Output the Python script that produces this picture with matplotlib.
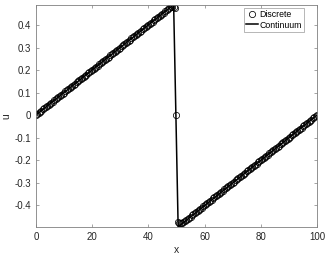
import numpy as np
import matplotlib.pyplot as plt

plt.rcParams['font.family'] = ['Liberation Sans', 'DejaVu Sans']

# discrete solution, nodes every 0.5 in x from 0 to 100
x_disc = np.arange(0, 100.5, 0.5)
u_disc = [
    0.000, 0.005, 0.010, 0.015, 0.020, 0.025, 0.030, 0.035, 0.040, 0.045,
    0.050, 0.055, 0.060, 0.065, 0.070, 0.075, 0.080, 0.085, 0.090, 0.095,
    0.100, 0.105, 0.110, 0.115, 0.120, 0.125, 0.130, 0.135, 0.140, 0.145,
    0.150, 0.155, 0.160, 0.165, 0.170, 0.175, 0.180, 0.185, 0.190, 0.195,
    0.200, 0.205, 0.210, 0.215, 0.220, 0.225, 0.230, 0.235, 0.240, 0.245,
    0.250, 0.255, 0.260, 0.265, 0.270, 0.275, 0.280, 0.285, 0.290, 0.295,
    0.300, 0.305, 0.310, 0.315, 0.320, 0.325, 0.330, 0.335, 0.340, 0.345,
    0.350, 0.355, 0.360, 0.365, 0.370, 0.375, 0.380, 0.385, 0.390, 0.395,
    0.400, 0.405, 0.410, 0.415, 0.420, 0.425, 0.430, 0.435, 0.440, 0.445,
    0.450, 0.455, 0.460, 0.465, 0.470, 0.475, 0.480,
    0.480, 0.478, 0.476,
    0.000,
    -0.476, -0.478, -0.480,
    -0.480, -0.475, -0.470, -0.465, -0.460, -0.455, -0.450,
    -0.445, -0.440, -0.435, -0.430, -0.425, -0.420, -0.415, -0.410, -0.405, -0.400,
    -0.395, -0.390, -0.385, -0.380, -0.375, -0.370, -0.365, -0.360, -0.355, -0.350,
    -0.345, -0.340, -0.335, -0.330, -0.325, -0.320, -0.315, -0.310, -0.305, -0.300,
    -0.295, -0.290, -0.285, -0.280, -0.275, -0.270, -0.265, -0.260, -0.255, -0.250,
    -0.245, -0.240, -0.235, -0.230, -0.225, -0.220, -0.215, -0.210, -0.205, -0.200,
    -0.195, -0.190, -0.185, -0.180, -0.175, -0.170, -0.165, -0.160, -0.155, -0.150,
    -0.145, -0.140, -0.135, -0.130, -0.125, -0.120, -0.115, -0.110, -0.105, -0.100,
    -0.095, -0.090, -0.085, -0.080, -0.075, -0.070, -0.065, -0.060, -0.055, -0.050,
    -0.045, -0.040, -0.035, -0.030, -0.025, -0.020, -0.015, -0.010, -0.005, 0.000,
]

# continuum solution
x_cont = [0, 48.5, 49.0, 49.8, 50.6, 51.2, 100]
u_cont = [0.0, 0.485, 0.489, 0.0, -0.496, -0.49, 0.0]

xticks = [0, 20, 40, 60, 80, 100]
yticks = [-0.4, -0.3, -0.2, -0.1, 0, 0.1, 0.2, 0.3, 0.4]
ytick_labels = ['-0.4', '-0.3', '-0.2', '-0.1', '0', '0.1', '0.2', '0.3', '0.4']

fig = plt.figure(figsize=(3.32, 2.59), dpi=100)
ax = fig.add_axes([0.108, 0.124, 0.847, 0.857])

ax.plot(x_disc, u_disc, 'o', color='black', markerfacecolor='none',
        markersize=4.5, markeredgewidth=0.55, label='Discrete')
ax.plot(x_cont, u_cont, '-', color='black', linewidth=1.1, label='Continuum')

ax.set_xlim(0, 100)
ax.set_ylim(-0.496, 0.489)
ax.set_xticks(xticks)
ax.set_yticks(yticks)
ax.set_yticklabels(ytick_labels)

grey = '#262626'
for s in ax.spines.values():
    s.set_color('#808080')
    s.set_linewidth(0.6)
ax.tick_params(direction='in', length=2.5, width=0.5, colors='#808080',
               labelcolor=grey, labelsize=7, top=True, right=True)
ax.set_xlabel('x', fontsize=7.5, color=grey, labelpad=2)
ax.set_ylabel('u', fontsize=7.5, color=grey, labelpad=2)

leg = ax.legend(loc='upper right', bbox_to_anchor=(0.954, 0.986),
                fontsize=6.3, frameon=True, fancybox=False,
                edgecolor='#808080', borderpad=0.25, labelspacing=0.15,
                handlelength=1.3, handletextpad=0.2, borderaxespad=0)
leg.get_frame().set_linewidth(0.5)

plt.savefig('out.png', dpi=100)
